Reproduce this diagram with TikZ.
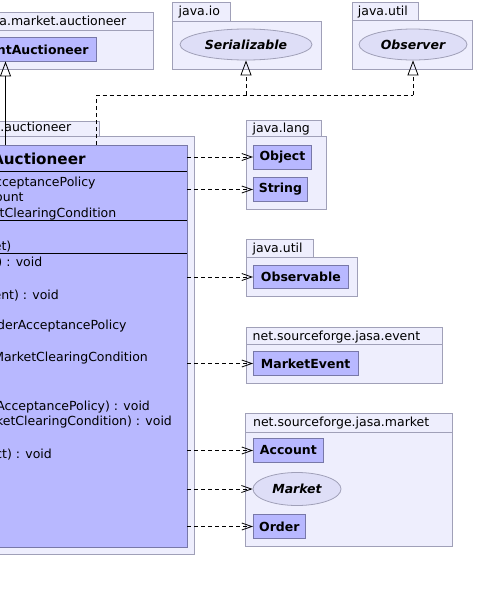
\documentclass[tikz,border=0pt]{standalone}
\usepackage{fontspec}
\setmainfont{DejaVu Sans}
\usetikzlibrary{shapes.geometric,arrows.meta}
\definecolor{pkgfill}{RGB}{238,238,253}
\definecolor{pkgline}{RGB}{160,160,184}
\definecolor{clsfill}{RGB}{184,184,255}
\definecolor{clsline}{RGB}{120,120,168}
\definecolor{ifcfill}{RGB}{222,222,247}
\definecolor{ifcline}{RGB}{160,160,184}
\newcommand{\umlfont}{\fontsize{12.5}{15}\selectfont}

\begin{document}
\begin{tikzpicture}[x=1pt, y=-1pt, line width=0.8pt,
  pkg/.style={draw=pkgline, fill=pkgfill, inner sep=0pt},
  pkgname/.style={anchor=base west, inner sep=0pt, font=\umlfont},
  cut/.style={anchor=base east, inner sep=0pt, font=\umlfont},
  cls/.style={draw=clsline, fill=clsfill, anchor=west, inner sep=0pt, minimum height=23.5pt, font=\umlfont\bfseries},
  ifc/.style={ellipse, draw=ifcline, fill=ifcfill, inner sep=0pt, font=\umlfont\bfseries\itshape},
  dep/.style={dash pattern=on 4pt off 3pt, -{Straight Barb[length=10pt,width=7pt]}},
  real/.style={dash pattern=on 4pt off 3pt},
  gen/.style={-{Triangle[open,length=15pt,width=11pt]}}]

\useasboundingbox (0,0) rectangle (478,592);
\clip (0,0) rectangle (478,592);

\node[pkg, anchor=north east, minimum width=220pt, minimum height=18.6pt] (topTab) at (153.3,11.7) {};
\node[pkg, anchor=north east, minimum width=220pt, minimum height=39pt] (topPkg) at (153.3,30.3) {};
\node[cut] (topName) at (126.7,25) {a.market.auctioneer};
\node[cls, anchor=east, minimum width=200pt, minimum height=23.7pt] (parent) at (96.7,49.2) {};
\node[cut, font=\umlfont\bfseries] (parentName) at (89,54) {ntAuctioneer};

\node[pkg, anchor=north west, minimum width=58pt, minimum height=18.4pt] (ioTab) at (172,2.3) {};
\node[pkg, anchor=north west, minimum width=149pt, minimum height=48.6pt] (ioPkg) at (172,20.7) {};
\node[pkgname] (ioName) at (178.3,15) {java.io};
\node[ifc, minimum width=132pt, minimum height=31pt] (ser) at (246,44.5) {Serializable};

\node[pkg, anchor=north west, minimum width=66pt, minimum height=18pt] (utilTab) at (352,2.3) {};
\node[pkg, anchor=north west, minimum width=120pt, minimum height=49pt] (utilPkg) at (352,20.3) {};
\node[pkgname] (utilName) at (357.5,15) {java.util};
\node[ifc, minimum width=108pt, minimum height=31pt] (obs) at (413,44.5) {Observer};

\node[pkg, anchor=north east, minimum width=200pt, minimum height=15.3pt] (midTab) at (99.3,120.7) {};
\node[pkg, anchor=north east, minimum width=300pt, minimum height=418pt] (midPkg) at (195,136) {};
\node[cut] (midName) at (71.7,131) {.auctioneer};

\node[cls, anchor=north east, minimum width=300pt, minimum height=402pt] (auct) at (187.3,145) {};
\draw (auct.west |- 0,171.5) -- (auct.east |- 0,171.5);
\draw (auct.west |- 0,220.5) -- (auct.east |- 0,220.5);
\draw (auct.west |- 0,253.5) -- (auct.east |- 0,253.5);
\node[cut, font=\fontsize{15.2}{18}\selectfont\bfseries] (auctName) at (86,164) {Auctioneer};
\foreach \xe/\yb/\txt [count=\i] in {96/186/{cceptancePolicy}, 24/201/{ount}, 116.7/217/{etClearingCondition},
    11.7/250/{et)}, 42.7/266.7/{) : void}, 59.3/299/{ent) : void}, 127/329.5/{derAcceptancePolicy},
    148.3/361.5/{MarketClearingCondition}, 150.3/410/{AcceptancePolicy) : void},
    172.3/425.7/{ketClearingCondition) : void}, 52.3/458/{ct) : void}}
  \node[cut] (member\i) at (\xe,\yb) {\txt};

\node[pkg, anchor=north west, minimum width=75pt, minimum height=16pt] (langTab) at (246,120) {};
\node[pkg, anchor=north west, minimum width=80pt, minimum height=73pt] (langPkg) at (246,136) {};
\node[pkgname] (langName) at (252.3,132.3) {java.lang};
\node[cls, minimum width=58pt, minimum height=24pt] (object) at (253,157) {Object};
\node[cls, minimum width=54pt] (string) at (253,189.5) {String};

\node[pkg, anchor=north west, minimum width=67pt, minimum height=18pt] (util2Tab) at (246,239.3) {};
\node[pkg, anchor=north west, minimum width=111pt, minimum height=38.7pt] (util2Pkg) at (246,257.3) {};
\node[pkgname] (util2Name) at (252.3,252.7) {java.util};
\node[cls, minimum width=95pt] (observable) at (253,277) {Observable};

\node[pkg, anchor=north west, minimum width=196pt, minimum height=17.6pt] (eventTab) at (246,326.7) {};
\node[pkg, anchor=north west, minimum width=196pt, minimum height=39pt] (eventPkg) at (246,344.3) {};
\node[pkgname] (eventName) at (252.3,340) {net.sourceforge.jasa.event};
\node[cls, minimum width=104.5pt] (mevent) at (253,363.5) {MarketEvent};

\node[pkg, anchor=north west, minimum width=207pt, minimum height=18.4pt] (marketTab) at (245.3,413.3) {};
\node[pkg, anchor=north west, minimum width=207pt, minimum height=114.3pt] (marketPkg) at (245.3,431.7) {};
\node[pkgname] (marketName) at (252.7,426.7) {net.sourceforge.jasa.market};
\node[cls, minimum width=70pt] (account) at (253,450.5) {Account};
\node[ifc, minimum width=88pt, minimum height=33pt] (market) at (297,489) {Market};
\node[cls, minimum width=52pt] (order) at (253,526.5) {Order};

\coordinate (genX) at (5.5,0);
\draw[gen] (auct.north -| genX) -- (parent.south -| genX);
\coordinate (bend) at (96.7,95);
\draw[real] (auct.north -| bend) -- (bend) -- (bend -| obs.south);
\draw[real, gen] (bend -| ser.south) -- (ser.south);
\draw[real, gen] (bend -| obs.south) -- (obs.south);

\draw[dep] (auct.east |- object.west) -- (object.west);
\draw[dep] (auct.east |- string.west) -- (string.west);
\draw[dep] (auct.east |- observable.west) -- (observable.west);
\draw[dep] (auct.east |- mevent.west) -- (mevent.west);
\draw[dep] (auct.east |- account.west) -- (account.west);
\draw[dep] (auct.east |- market.west) -- (market.west);
\draw[dep] (auct.east |- order.west) -- (order.west);

\end{tikzpicture}
\end{document}
